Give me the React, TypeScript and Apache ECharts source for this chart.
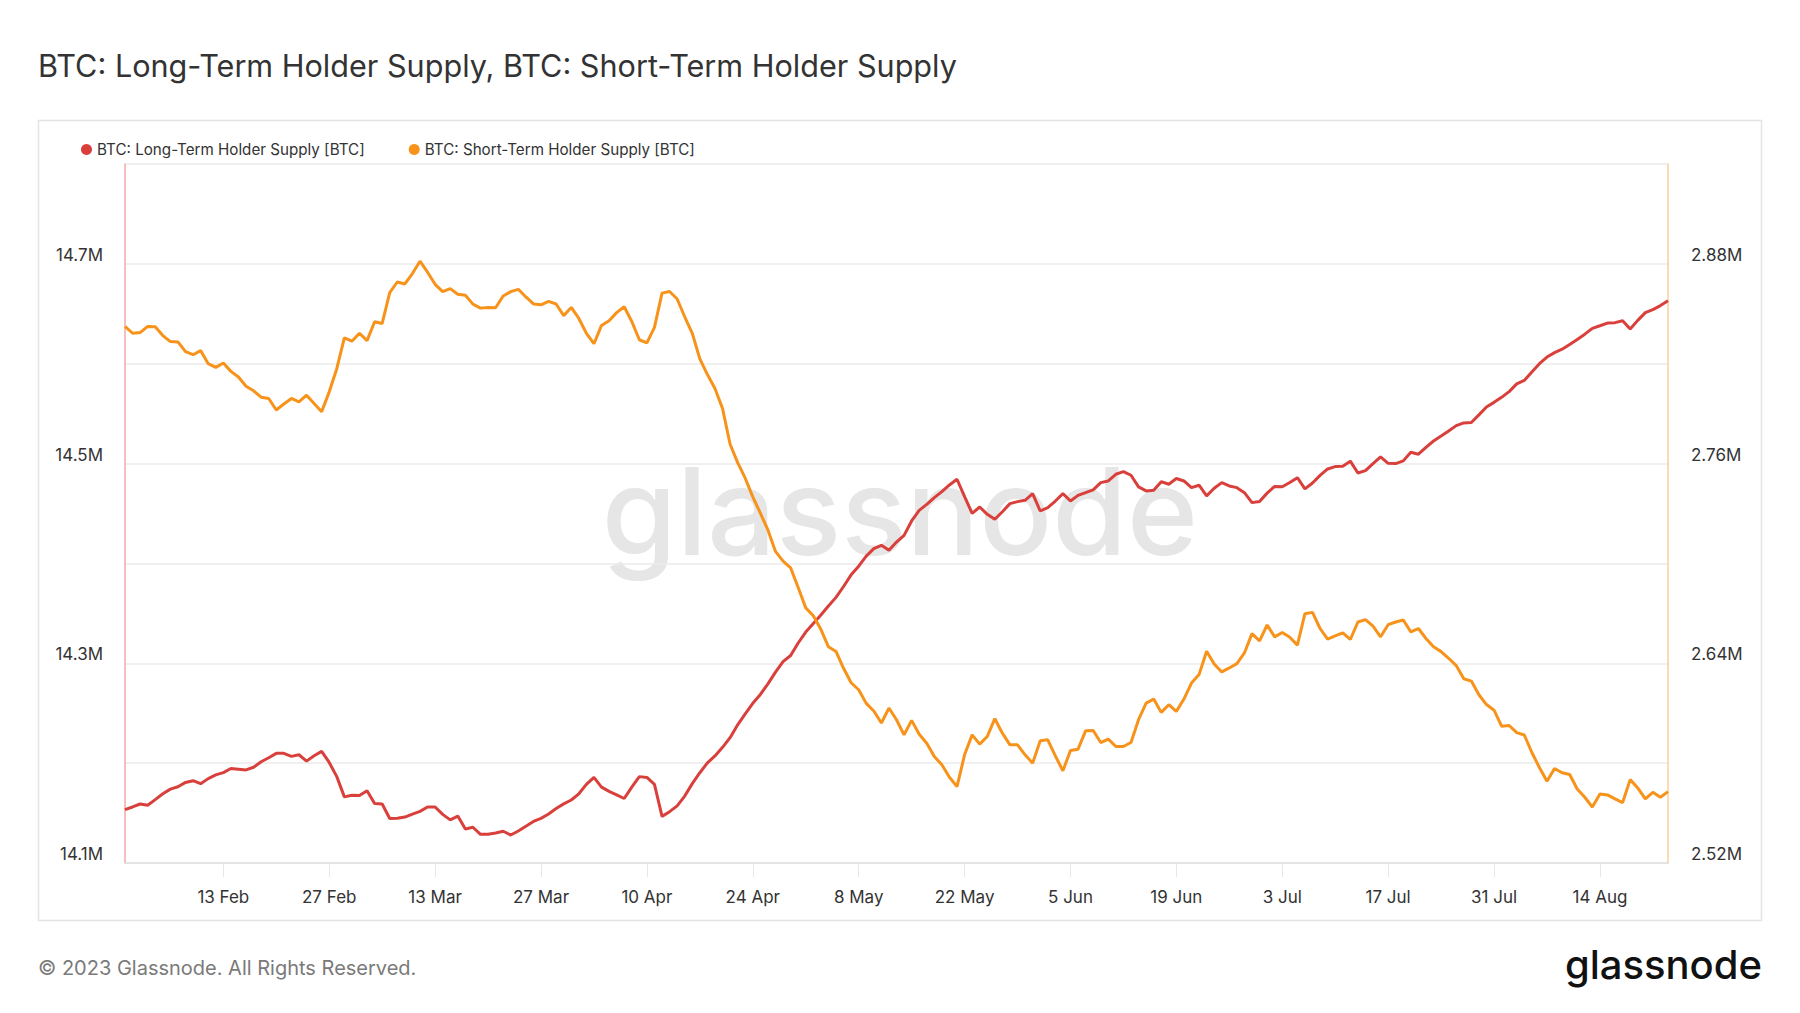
import React, { useEffect, useRef } from 'react';
import * as echarts from 'echarts';

// ---------- DATA ----------
const SERIES_NAMES = [
  'BTC: Long-Term Holder Supply [BTC]',
  'BTC: Short-Term Holder Supply [BTC]',
];

// Daily values in millions of BTC, 31 Jan 2023 .. 23 Aug 2023
const LTH_SUPPLY = [
  14.1534, 14.1561, 14.1591, 14.1578, 14.1635, 14.1693, 14.1740, 14.1764, 14.1807, 14.1824,
  14.1794, 14.1845, 14.1882, 14.1905, 14.1946, 14.1939, 14.1932, 14.1959, 14.2014, 14.2054,
  14.2098, 14.2098, 14.2068, 14.2084, 14.2020, 14.2074, 14.2118, 14.2007, 14.1865, 14.1662,
  14.1679, 14.1676, 14.1723, 14.1595, 14.1591, 14.1446, 14.1449, 14.1460, 14.1490, 14.1517,
  14.1561, 14.1561, 14.1487, 14.1432, 14.1470, 14.1341, 14.1358, 14.1287, 14.1287, 14.1301,
  14.1318, 14.1280, 14.1321,
  14.1369, 14.1416, 14.1447, 14.1490, 14.1545, 14.1592, 14.1631, 14.1693, 14.1787, 14.1857,
  14.1760, 14.1717, 14.1682, 14.1646, 14.1760, 14.1865, 14.1857, 14.1787, 14.1467, 14.1514,
  14.1572, 14.1670, 14.1795, 14.1904, 14.2002, 14.2072, 14.2158, 14.2255, 14.2384, 14.2493,
  14.2599, 14.2688, 14.2794, 14.2911, 14.3016, 14.3078, 14.3203, 14.3313, 14.3398, 14.3484,
  14.3574, 14.3660, 14.3769, 14.3886, 14.3972, 14.4073, 14.4148,
  14.4181, 14.4131, 14.4214, 14.4281, 14.4425, 14.4532, 14.4592, 14.4659, 14.4719, 14.4786,
  14.4843, 14.4669, 14.4502, 14.4565, 14.4492, 14.4442, 14.4518, 14.4599, 14.4619, 14.4632,
  14.4699, 14.4525, 14.4559, 14.4625, 14.4699, 14.4625, 14.4682, 14.4709, 14.4736, 14.4809,
  14.4826, 14.4893, 14.4920, 14.4883, 14.4766, 14.4726, 14.4732, 14.4819, 14.4793, 14.4850,
  14.4826, 14.4759, 14.4783, 14.4676, 14.4753, 14.4809, 14.4776, 14.4759, 14.4709, 14.4609,
  14.4620, 14.4704, 14.4771, 14.4768, 14.4811, 14.4859, 14.4747, 14.4805, 14.4882, 14.4946,
  14.4970, 14.4973, 14.5024, 14.4906, 14.4929, 14.5000, 14.5067, 14.5003, 14.5000, 14.5027,
  14.5114, 14.5094, 14.5162, 14.5226, 14.5276, 14.5327, 14.5380, 14.5407, 14.5411, 14.5488,
  14.5566, 14.5613, 14.5663, 14.5721, 14.5798, 14.5832, 14.5916, 14.6000, 14.6067, 14.6111,
  14.6145, 14.6192, 14.6242, 14.6296, 14.6354, 14.6380, 14.6407, 14.6411, 14.6431, 14.6347,
  14.6434, 14.6512, 14.6542, 14.6582, 14.6630,
];

const STH_SUPPLY = [
  2.8424, 2.8383, 2.8387, 2.8424, 2.8422, 2.8369, 2.8333, 2.8331, 2.8273, 2.8254,
  2.8279, 2.8200, 2.8178, 2.8204, 2.8154, 2.8120, 2.8065, 2.8037, 2.7999, 2.7991,
  2.7922, 2.7958, 2.7991, 2.7971, 2.8011, 2.7961, 2.7912, 2.8031, 2.8170, 2.8355,
  2.8335, 2.8383, 2.8339, 2.8452, 2.8442, 2.8627, 2.8691, 2.8679, 2.8742, 2.8816,
  2.8750, 2.8677, 2.8633, 2.8651, 2.8617, 2.8611, 2.8558, 2.8534, 2.8538, 2.8536,
  2.8607, 2.8633, 2.8647,
  2.8601, 2.8559, 2.8554, 2.8575, 2.8559, 2.8489, 2.8538, 2.8472, 2.8383, 2.8320,
  2.8430, 2.8458, 2.8507, 2.8542, 2.8454, 2.8344, 2.8325, 2.8418, 2.8624, 2.8634,
  2.8589, 2.8482, 2.8383, 2.8229, 2.8135, 2.8051, 2.7931, 2.7716, 2.7606, 2.7512,
  2.7400, 2.7302, 2.7201, 2.7072, 2.7014, 2.6974, 2.6855, 2.6733, 2.6686, 2.6604,
  2.6499, 2.6471, 2.6370, 2.6283, 2.6241, 2.6159, 2.6113,
  2.6041, 2.6131, 2.6061, 2.5970, 2.6057, 2.5974, 2.5920, 2.5840, 2.5790, 2.5715,
  2.5659, 2.5850, 2.5970, 2.5914, 2.5960, 2.6067, 2.5980, 2.5910, 2.5910, 2.5850,
  2.5800, 2.5934, 2.5940, 2.5844, 2.5754, 2.5876, 2.5884, 2.5994, 2.5996, 2.5924,
  2.5944, 2.5900, 2.5900, 2.5924, 2.6061, 2.6161, 2.6185, 2.6105, 2.6151, 2.6111,
  2.6185, 2.6281, 2.6332, 2.6472, 2.6396, 2.6348, 2.6372, 2.6398, 2.6462, 2.6578,
  2.6535, 2.6630, 2.6559, 2.6585, 2.6557, 2.6509, 2.6698, 2.6706, 2.6609, 2.6545,
  2.6565, 2.6583, 2.6543, 2.6648, 2.6662, 2.6623, 2.6559, 2.6632, 2.6648, 2.6660,
  2.6589, 2.6609, 2.6549, 2.6499, 2.6470, 2.6430, 2.6386, 2.6307, 2.6293, 2.6211,
  2.6152, 2.6118, 2.6022, 2.6026, 2.5983, 2.5969, 2.5864, 2.5774, 2.5691, 2.5768,
  2.5742, 2.5732, 2.5645, 2.5595, 2.5536, 2.5615, 2.5609, 2.5585, 2.5563, 2.5701,
  2.5651, 2.5585, 2.5625, 2.5595, 2.5629,
];

const X_TICK_LABELS = [
  '13 Feb', '27 Feb', '13 Mar', '27 Mar', '10 Apr', '24 Apr', '8 May',
  '22 May', '5 Jun', '19 Jun', '3 Jul', '17 Jul', '31 Jul', '14 Aug',
];

const LEFT_AXIS = { min: 14.1, max: 14.8, interval: 0.1 };
const RIGHT_AXIS = { min: 2.52, max: 2.94, interval: 0.06 };

const MONTHS = ['Jan', 'Feb', 'Mar', 'Apr', 'May', 'Jun', 'Jul', 'Aug', 'Sep', 'Oct', 'Nov', 'Dec'];
const START = { year: 2023, month: 0, day: 31 };

const CATEGORIES = LTH_SUPPLY.map((_, i) => {
  const d = new Date(Date.UTC(START.year, START.month, START.day + i));
  return `${d.getUTCDate()} ${MONTHS[d.getUTCMonth()]}`;
});

const TITLE = 'BTC: Long-Term Holder Supply, BTC: Short-Term Holder Supply';
const COPYRIGHT = '© 2023 Glassnode. All Rights Reserved.';

const FONT = 'Inter, "Noto Sans", sans-serif';
const RED = '#d9403b';
const ORANGE = '#f7931a';

export default function App() {
  const ref = useRef<HTMLDivElement>(null);

  useEffect(() => {
    document.body.style.margin = '0';
    if (!ref.current) return;
    const chart = echarts.init(ref.current, undefined, { renderer: 'svg' });
    const showTick = (_idx: number, value: string) => X_TICK_LABELS.includes(value);

    chart.setOption({
      animation: false,
      backgroundColor: '#ffffff',
      textStyle: { fontFamily: FONT },
      grid: { left: 125, right: 132, top: 164, bottom: 150, containLabel: false },
      legend: {
        left: 76,
        top: 137,
        icon: 'circle',
        itemWidth: 11,
        itemHeight: 11,
        itemGap: 44,
        textStyle: { fontSize: 15.2, color: '#333333', fontFamily: FONT },
        data: SERIES_NAMES,
      },
      xAxis: {
        type: 'category',
        boundaryGap: false,
        data: CATEGORIES,
        axisLine: { show: true, lineStyle: { color: '#e0e0e0', width: 1.5 } },
        axisTick: { show: true, interval: showTick, length: 14, lineStyle: { color: '#e6e6e6' } },
        axisLabel: {
          interval: showTick,
          margin: 25,
          fontSize: 17,
          color: '#333333',
          fontFamily: FONT,
        },
        splitLine: { show: false },
      },
      yAxis: [
        {
          type: 'value',
          position: 'left',
          min: LEFT_AXIS.min,
          max: LEFT_AXIS.max,
          interval: LEFT_AXIS.interval,
          axisLine: { show: true, lineStyle: { color: '#f3a9a6', width: 1.5 } },
          axisTick: { show: false },
          splitLine: { show: true, lineStyle: { color: '#ebebeb', width: 1.5 } },
          axisLabel: {
            margin: 22,
            fontSize: 17,
            color: '#333333',
            fontFamily: FONT,
            verticalAlign: 'bottom',
            lineHeight: 18,
            formatter: (v: number) => (Math.round(v * 10) % 2 === 1 ? v.toFixed(1) + 'M' : ''),
          },
        },
        {
          type: 'value',
          position: 'right',
          min: RIGHT_AXIS.min,
          max: RIGHT_AXIS.max,
          interval: RIGHT_AXIS.interval,
          axisLine: { show: true, lineStyle: { color: '#fbcf98', width: 1.5 } },
          axisTick: { show: false },
          splitLine: { show: false },
          axisLabel: {
            margin: 23,
            fontSize: 17,
            color: '#333333',
            fontFamily: FONT,
            verticalAlign: 'bottom',
            lineHeight: 18,
            formatter: (v: number) =>
              Math.round((v - RIGHT_AXIS.min) / RIGHT_AXIS.interval) % 2 === 0 ? v.toFixed(2) + 'M' : '',
          },
        },
      ],
      graphic: [
        {
          type: 'rect',
          z: -10,
          silent: true,
          shape: { x: 38.5, y: 120.5, width: 1723, height: 800 },
          style: { fill: 'none', stroke: '#e4e4e4', lineWidth: 1.5 },
        },
        {
          type: 'text',
          z: 0,
          silent: true,
          style: {
            text: 'glassnode',
            x: 900,
            y: 511,
            textAlign: 'center',
            textVerticalAlign: 'middle',
            align: 'center',
            verticalAlign: 'middle',
            fontSize: 121,
            fontWeight: 500,
            fontFamily: FONT,
            fill: '#e6e6e6',
          },
        },
        {
          type: 'text',
          silent: true,
          style: {
            text: TITLE,
            x: 38,
            y: 65,
            textAlign: 'left',
            textVerticalAlign: 'middle',
            align: 'left',
            verticalAlign: 'middle',
            fontSize: 30.6,
            fontWeight: 400,
            fontFamily: FONT,
            fill: '#333333',
          },
        },
        {
          type: 'text',
          silent: true,
          style: {
            text: COPYRIGHT,
            x: 38,
            y: 968,
            textAlign: 'left',
            textVerticalAlign: 'middle',
            align: 'left',
            verticalAlign: 'middle',
            fontSize: 20,
            fontFamily: FONT,
            fill: '#7a7a7a',
          },
        },
        {
          type: 'text',
          silent: true,
          style: {
            text: 'glassnode',
            x: 1762,
            y: 964,
            textAlign: 'right',
            textVerticalAlign: 'middle',
            align: 'right',
            verticalAlign: 'middle',
            fontSize: 40,
            fontWeight: 500,
            fontFamily: FONT,
            fill: '#111111',
          },
        },
      ],
      series: [
        {
          name: SERIES_NAMES[0],
          type: 'line',
          yAxisIndex: 0,
          data: LTH_SUPPLY,
          showSymbol: false,
          symbol: 'none',
          color: RED,
          lineStyle: { color: RED, width: 3 },
          z: 3,
        },
        {
          name: SERIES_NAMES[1],
          type: 'line',
          yAxisIndex: 1,
          data: STH_SUPPLY,
          showSymbol: false,
          symbol: 'none',
          color: ORANGE,
          lineStyle: { color: ORANGE, width: 3 },
          z: 4,
        },
      ],
    });

    return () => chart.dispose();
  }, []);

  return <div ref={ref} style={{ width: 1800, height: 1013 }} />;
}
